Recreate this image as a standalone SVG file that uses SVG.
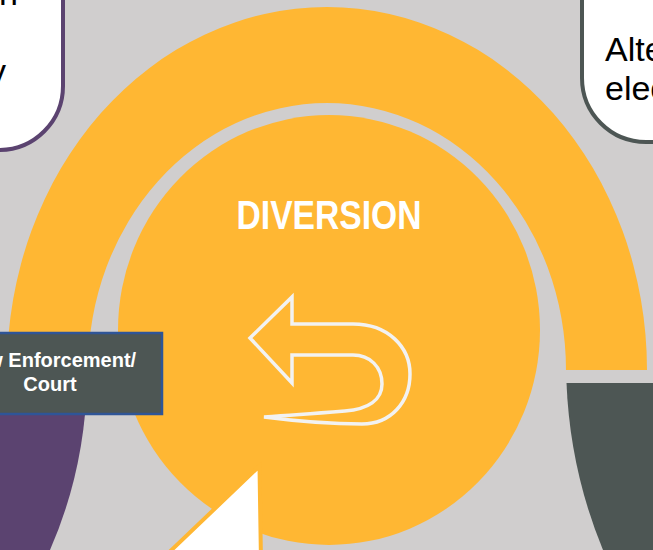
<svg xmlns="http://www.w3.org/2000/svg" width="653" height="550" viewBox="0 0 653 550">
<style>
.t{font-family:"Liberation Sans",Arial,sans-serif}
.box{fill:#fff;stroke-width:4}
.big{font-size:34px;fill:#000}
.lab{font-size:20px;font-weight:700;fill:#fff;text-anchor:middle}
</style>
<rect width="653" height="550" fill="#d0cece"/>
<g id="bands">
<path d="M7 370A320 363 0 0 1 647 370H566A239 267 0 0 0 88 370Z" fill="#ffb733"/>
<path d="M566.500 383H653V550H603Q570 470 566.500 383Z" fill="#4d5654"/>
<path d="M0 380H87Q85 470 50 550H0Z" fill="#5b4370"/>
</g>
<g id="diversion">
<ellipse cx="329" cy="330" rx="211" ry="215" fill="#ffb733"/>
<text class="t" x="329" y="229" font-size="40" font-weight="700" fill="#fff" text-anchor="middle" textLength="185" lengthAdjust="spacingAndGlyphs">DIVERSION</text>
<path d="M250 338L292 297V324H353C388 324 410 347 410 374C410 402 391 424 362 424C330 424 295 421 264 417C295 415 320 413 345 411C368 409 382 400 382 384C382 367 370 355 353 355H292V383Z" fill="none" stroke="#f2f2f2" stroke-width="3.500"/>
</g>
<g id="pointer">
<path d="M259.500 466L261 562H159Z" fill="#fff" stroke="#ffb733" stroke-width="4"/>
</g>
<g id="court">
<rect x="-40" y="333" width="202" height="81" fill="#4d5654" stroke="#2f5597" stroke-width="2.500"/>
<text class="t lab" x="50" y="367">Law Enforcement/</text>
<text class="t lab" x="50" y="391">Court</text>
</g>
<g id="left-note">
<rect x="-200" y="-100" width="263" height="250" rx="64" class="box" stroke="#5b4370"/>
<text class="t big" x="18" y="5" text-anchor="end">n</text>
<text class="t big" x="6" y="83" text-anchor="end">y</text>
</g>
<g id="right-note">
<rect x="582" y="-100" width="263" height="242" rx="64" class="box" stroke="#4d5654"/>
<text class="t big" x="605" y="61">Alte</text>
<text class="t big" x="605" y="100">elec</text>
</g>
</svg>
